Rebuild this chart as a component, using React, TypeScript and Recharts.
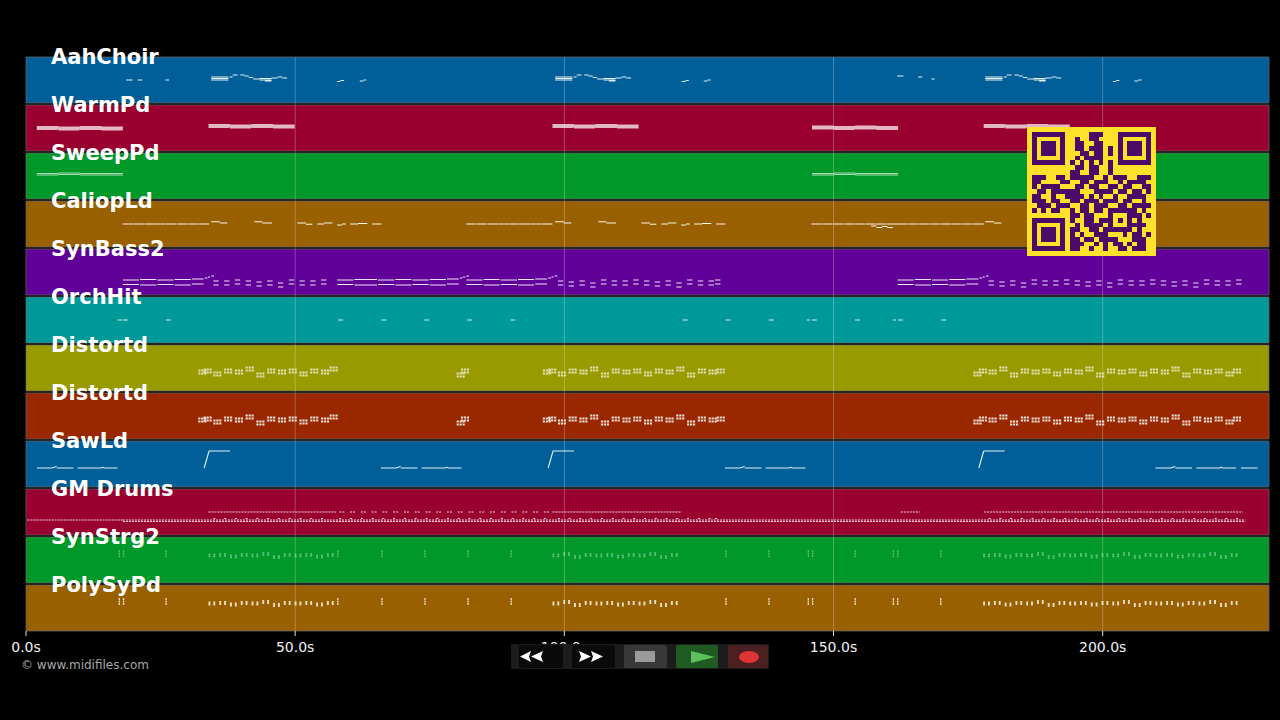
import { ComposedChart, Line, XAxis, YAxis, ReferenceArea, ReferenceLine } from "recharts";

type Seg = number[]; // [startSec, endSec, pitch, endPitch?]

const trackNames = ["AahChoir", "WarmPd", "SweepPd", "CaliopLd", "SynBass2", "OrchHit", "Distortd", "Distortd", "SawLd", "GM Drums", "SynStrg2", "PolySyPd"];
const trackColors = ["#005f99", "#990030", "#009929", "#996000", "#600099", "#009999", "#999900", "#992800", "#005f99", "#990030", "#009929", "#996000"];
const timeTicks = [0, 50, 100, 150, 200];
const maxTime = 230.9;

// phrases, offsets in seconds from where the phrase starts
const aahPhrase: Seg[] = [[0, 3.2, 28], [0, 3.2, 26.5], [0, 3.2, 25], [3.4, 4, 28], [4, 4.9, 30], [5.4, 6.2, 30], [6.2, 7, 29], [7, 7.8, 27.5], [7.8, 9, 26], [9, 11.2, 26.5], [9, 11.2, 25], [10, 11.2, 24], [11.2, 12.3, 27], [12.3, 13.2, 28], [13.2, 14.1, 27]];
const aahStarts = [34.4, 98.3, 178.2];
const aahExtra: Seg[] = [[18.6, 19.8, 25], [20.7, 21.6, 25], [25.9, 26.6, 25], [57.8, 58.4, 23.5], [58.4, 59.1, 24.5], [62, 62.7, 24], [62.7, 63.2, 25], [121.8, 122.5, 23.5], [122.5, 123.1, 24.5], [125.9, 126.6, 24], [126.6, 127.2, 25], [161.8, 163, 29], [165.7, 166.5, 28], [168.2, 168.8, 26], [201.9, 202.5, 23.5], [202.5, 203.1, 24.5], [205.9, 206.6, 24], [206.6, 207.2, 25]];

const padPhrase: Seg[] = [[0, 4, 27.5], [0, 4, 26.5], [0, 4, 25.5], [0, 3.9, 24.5], [4, 8, 27], [4, 8, 26], [4, 8, 25], [4, 7.9, 24], [8, 12, 27.5], [8, 12, 26.5], [8, 12, 25.5], [8, 12, 24.5], [12, 16, 27], [12, 16, 26], [12, 16, 25], [12, 16, 24]];
const warmStarts = [[2, -1], [33.9, 1], [97.8, 1], [146, -0.5], [177.9, 1]];
const sweepPhrase: Seg[] = [[0, 4, 26], [0, 4, 27.5], [4, 8, 26.5], [4, 8, 28], [8, 12, 27.5], [8, 12, 26], [12, 16, 27.5], [12, 16, 26]];
const sweepStarts = [2, 146];

const caliopDashes: Seg[] = [[0, 1.9, 25], [2, 3.9, 25], [4, 5.9, 25], [6, 7.9, 25], [8, 9.9, 25], [10, 11.9, 25], [12, 13.9, 25], [14, 16, 25]];
const caliopStarts = [18, 81.8, 145.9, 161.9];
const caliopMelody: Seg[] = [[0, 1.6, 27.3], [1.6, 3, 26], [8, 9.5, 27.3], [9.5, 11.3, 26], [16, 17.6, 26], [17.6, 18.8, 24.7], [19.7, 21, 25], [21, 22.5, 26], [23.4, 24.3, 24], [24.3, 25, 25], [25.8, 27.3, 25], [27.3, 29, 25.5], [29.9, 31.6, 25]];
const melodyStarts = [34.4, 98.3, 178.2];
const caliopExtra: Seg[] = [[157, 158, 23], [158, 159, 21.5], [159, 160, 22.5], [160, 161, 21.5]];

const bassDouble: Seg[] = [[0, 3, 17], [0, 3, 12.5], [3.2, 6.2, 17.5], [3.2, 6.2, 12], [6.4, 9.4, 17], [6.4, 9.4, 12.5], [9.6, 12.6, 17.5], [9.6, 12.6, 12], [12.8, 15, 18], [12.8, 15, 13], [15.2, 15.7, 19], [15.8, 16.2, 20], [16.4, 16.9, 21]];
const bassDoubleStarts = [18, 65.4, 81.8, 161.9];
const bassBridge: Seg[] = [[57.8, 60.8, 17], [57.8, 60.8, 12.5], [61, 65.2, 17.5], [61, 65.2, 12]];
const bassPair: Seg[] = [[0, 1, 16], [0, 1, 12]];
const bassPairStarts = [34.8, 36.8, 38.8, 40.8, 42.8, 44.8, 46.8, 48.8, 50.8, 52.8, 54.8, 98.8, 100.8, 102.8, 104.8, 106.8, 108.8, 110.8, 112.8, 114.8, 116.8, 118.8, 120.8, 122.8, 124.8, 126.8, 128, 178.8, 180.8, 182.8, 184.8, 186.8, 188.8, 190.8, 192.8, 194.8, 196.8, 198.8, 200.8, 202.8, 204.8, 206.8, 208.8, 210.8, 212.8, 214.8, 216.8, 218.8, 220.8, 222.8, 224.8];
const bassJitter = [0, 0, 1, 0, -1, 0, -2, 1];

const orchHits: Seg[] = [[17, 17.8, 25], [18, 18.9, 25], [26, 26.9, 25], [58, 58.9, 25], [66, 66.9, 25], [74, 74.9, 25], [82, 82.9, 25], [90, 90.9, 25], [122, 122.9, 25], [130, 130.9, 25], [138, 138.9, 25], [145, 145.6, 25], [146, 146.9, 25], [154, 154.9, 25], [161, 161.6, 25], [162, 162.9, 25], [170, 170.9, 25]];

const distCell: Seg[] = [[0, 0.4, 22.5], [0.55, 0.95, 22.5], [1.1, 1.5, 22.5], [0, 0.4, 19.5], [0.55, 0.95, 19.5], [1.1, 1.5, 19.5]];
const distStarts = [32, 33, 34.8, 36.8, 38.8, 40.8, 42.8, 44.8, 46.8, 48.8, 50.8, 52.8, 54.8, 56.4, 80, 80.8, 96, 97, 98.8, 100.8, 102.8, 104.8, 106.8, 108.8, 110.8, 112.8, 114.8, 116.8, 118.8, 120.8, 122.8, 124.8, 126.8, 128.3, 176, 177, 178.8, 180.8, 182.8, 184.8, 186.8, 188.8, 190.8, 192.8, 194.8, 196.8, 198.8, 200.8, 202.8, 204.8, 206.8, 208.8, 210.8, 212.8, 214.8, 216.8, 218.8, 220.8, 222.8, 224.2];
const distJitter = [0, 1, -2, 1, 0, 3, -3, 1];

const sawPhrase: Seg[] = [[0, 2.8, 21], [2.8, 3.7, 21, 22.5], [3.7, 6.8, 21], [7.6, 12, 21], [12, 12.4, 21, 22], [12.4, 15, 21]];
const sawStarts = [2, 65.9, 129.8, 209.8];
const sawRamp: Seg[] = [[0, 0.9, 21, 38], [0.9, 4.8, 38, 38]];
const rampStarts = [33.1, 97, 177];
const sawExtra: Seg[] = [[225.7, 228.8, 21]];

const drumLow: Seg[] = [[0.3, 18, 17], [18, 226.5, 17], [18, 226.5, 15.5]];
const drumTop: Seg[] = [[33.9, 57.6, 25], [97.8, 121.8, 25], [162.5, 166, 25], [178, 226, 25]];
const drumDashes = [58.2, 60.2, 62.2, 64.2, 66.2, 68.2, 70.2, 72.2, 74.2, 76.2, 78.2, 80.2, 82.2, 84.2, 86.2, 88.2, 90.2, 92.2, 94.2, 96.2];

const stemCell: Seg[] = [[0, 0.25, 29], [0, 0.25, 31.5], [0, 0.25, 34]];
const stemStarts = [17.2, 18, 25.9, 57.8, 66, 74, 82, 90, 129.9, 137.9, 145.2, 146, 153.9, 161, 161.8, 169.8];
const chordCell: Seg[] = [[0, 0.35, 28.5], [0, 0.35, 30.5], [0.9, 1.25, 28.5], [0.9, 1.25, 30.5]];
const chordStarts = [33.9, 35.9, 37.9, 39.9, 41.9, 43.9, 45.9, 47.9, 49.9, 51.9, 53.9, 55.9, 97.8, 99.8, 101.8, 103.8, 105.8, 107.8, 109.8, 111.8, 113.8, 115.8, 117.8, 119.8, 177.8, 179.8, 181.8, 183.8, 185.8, 187.8, 189.8, 191.8, 193.8, 195.8, 197.8, 199.8, 201.8, 203.8, 205.8, 207.8, 209.8, 211.8, 213.8, 215.8, 217.8, 219.8, 221.8, 223.8];

const qrRows = [
  "1111111000001110001111111", "1000001001001100001000001", "1011101001100110001011101", "1011101001101110101011101", "1011101000110110101011101",
  "1000001001011110001000001", "1111111010101010101111111", "0000000001101100100000000", "0000000011001100100000000", "1110011011111001011100111",
  "1100001100110111001011110", "1011110001101100110110011", "0110111111000111101101101", "1100100111101010010011110", "1110110011011101110110010",
  "0111011100110111001101111", "1010110010110110111111010", "0000000011011000100011101", "1111111010011011101010100", "1000001001011110100011110",
  "1011101011001101111110100", "1011101010100111000101101", "1011101011011011110001110", "1000001011100101011010110", "1111111011001001001101110",
];

// helpers
const at = (phrase: Seg[], start: number, shift = 0): Seg[] =>
  phrase.map(([a, b, p, q]) => [a + start, b + start, p + shift, (q ?? p) + shift]);
const pick = (list: number[], i: number) => list[i % list.length];

const stemNotes = [...stemStarts.flatMap((s) => at(stemCell, s)), ...chordStarts.flatMap((s, i) => at(chordCell, s, pick(distJitter, i) / 2))];
const distNotes = distStarts.flatMap((s, i) => at(distCell, s, pick(distJitter, i)));

const tracks: { notes: Seg[]; opacity: number; width: number; dash?: string }[] = [
  { notes: [...aahStarts.flatMap((s) => at(aahPhrase, s)), ...aahExtra], opacity: 0.9, width: 1.2 },
  { notes: warmStarts.flatMap(([s, d]) => at(padPhrase, s, d)), opacity: 0.72, width: 1.2 },
  { notes: sweepStarts.flatMap((s) => at(sweepPhrase, s)), opacity: 0.65, width: 1.2 },
  { notes: [...caliopStarts.flatMap((s) => at(caliopDashes, s)), ...melodyStarts.flatMap((s) => at(caliopMelody, s)), ...caliopExtra], opacity: 0.95, width: 1.1 },
  { notes: [...bassDoubleStarts.flatMap((s) => at(bassDouble, s)), ...bassBridge, ...bassPairStarts.flatMap((s, i) => at(bassPair, s, pick(bassJitter, i)))], opacity: 0.9, width: 1.1 },
  { notes: orchHits, opacity: 0.85, width: 1.1 },
  { notes: distNotes, opacity: 0.7, width: 2 },
  { notes: distNotes, opacity: 0.85, width: 2.2 },
  { notes: [...sawStarts.flatMap((s) => at(sawPhrase, s)), ...rampStarts.flatMap((s) => at(sawRamp, s)), ...sawExtra], opacity: 0.9, width: 1.1 },
  { notes: [...drumLow, ...drumTop, ...drumDashes.map((s) => [s, s + 1, 25]), ...bassPairStarts.map((s) => [s, s + 0.5, 18.5]), ...drumDashes.map((s) => [s, s + 0.5, 18.5])], opacity: 0.85, width: 1.1, dash: "2 1" },
  { notes: stemNotes, opacity: 0.45, width: 1.4 },
  { notes: stemNotes, opacity: 0.8, width: 2 },
];

const laneBase = (i: number) => 576 - 48 * (i + 1);
const toPoints = (notes: Seg[], i: number) =>
  notes.flatMap(([a, b, p, q]) => [
    { x: a, y: laneBase(i) + p },
    { x: b, y: laneBase(i) + (q ?? p) },
    { x: b, y: null },
  ]);

const labelTicks = trackNames.map((_, i) => laneBase(i) + 48);

const QrCode = () => (
  <svg width={129} height={129} viewBox="0 0 27 27" style={{ position: "absolute", left: 1027, top: 127 }} shapeRendering="crispEdges">
    <rect width={27} height={27} fill="#fde12b" />
    {qrRows.map((row, r) =>
      row.split("").map((c, k) => (c === "1" ? <rect key={r + "-" + k} x={k + 1} y={r + 1} width={1} height={1} fill="#4b0c68" /> : null))
    )}
  </svg>
);

const box = (left: number, width: number, background: string): React.CSSProperties => ({
  position: "absolute", left, top: 645, width, height: 23, background, borderRadius: 2,
});

const Transport = () => (
  <>
    <div style={{ position: "absolute", left: 511, top: 644, width: 258, height: 25, background: "#1c1c1c" }} />
    <div style={box(519, 44, "#0a0a0a")} />
    <div style={box(572, 43, "#0a0a0a")} />
    <div style={box(624, 43, "#383838")} />
    <div style={box(676, 42, "#1e5a22")} />
    <div style={box(728, 40, "#4a2020")} />
    <svg width={1280} height={720} style={{ position: "absolute", left: 0, top: 0 }}>
      <path d="M520 656.5 L531 651 L529 656.5 L531 662 Z M531 656.5 L543 651 L541 656.5 L543 662 Z" fill="#fff" />
      <path d="M579 651 L591 656.5 L579 662 L581 656.5 Z M591 651 L603 656.5 L591 662 L593 656.5 Z" fill="#fff" />
      <rect x={635} y={651} width={20} height={11} fill="#9a9a9a" />
      <path d="M691 651 L715 657 L691 663 Z" fill="#5cc05c" />
      <ellipse cx={749} cy={657} rx={10} ry={6} fill="#e03434" />
    </svg>
  </>
);

export default function App() {
  return (
    <div style={{ position: "fixed", left: 0, top: 0, width: 1280, height: 720, background: "#000", overflow: "hidden" }}>
      <ComposedChart width={1280} height={720} margin={{ top: 57, right: 11, bottom: 59, left: 26 }}>
        <XAxis
          type="number"
          dataKey="x"
          domain={[0, maxTime]}
          ticks={timeTicks}
          height={30}
          tickFormatter={(v: number) => v.toFixed(1) + "s"}
          tick={{ fill: "#f0f0f0", fontSize: 14, fontFamily: "DejaVu Sans" }}
          tickLine={{ stroke: "#e0e0e0" }}
          tickSize={5}
          tickMargin={6}
          axisLine={false}
          allowDataOverflow
        />
        <YAxis type="number" domain={[2, 576]} hide />
        {trackNames.map((name, i) => (
          <ReferenceArea
            key={i}
            x1={0}
            x2={maxTime}
            y1={laneBase(i) + 2}
            y2={laneBase(i) + 48}
            fill={trackColors[i]}
            fillOpacity={1}
            stroke="#6a6a6a"
            strokeOpacity={0.7}
            strokeWidth={1}
          />
        ))}
        {timeTicks.slice(1).map((t) => (
          <ReferenceLine key={t} x={t} stroke="#ffffff" strokeOpacity={0.25} strokeWidth={1} />
        ))}
        {tracks.map((t, i) => (
          <Line
            key={i}
            data={toPoints(t.notes, i)}
            dataKey="y"
            dot={false}
            activeDot={false}
            stroke="#ffffff"
            strokeOpacity={t.opacity}
            strokeWidth={t.width}
            strokeDasharray={t.dash}
            connectNulls={false}
            isAnimationActive={false}
            legendType="none"
          />
        ))}
        {trackNames.map((name, i) => (
          <ReferenceLine
            key={"label" + i}
            y={labelTicks[i]}
            stroke="none"
            label={{ value: name, position: "insideLeft", dx: 20, fill: "#ffffff", fontSize: 21, fontWeight: 700, fontFamily: "DejaVu Sans" }}
          />
        ))}
      </ComposedChart>
      <QrCode />
      <Transport />
      <div style={{ position: "absolute", left: 21, top: 658, color: "#a8a8a8", fontSize: 12, fontFamily: "DejaVu Sans" }}>© www.midifiles.com</div>
    </div>
  );
}
